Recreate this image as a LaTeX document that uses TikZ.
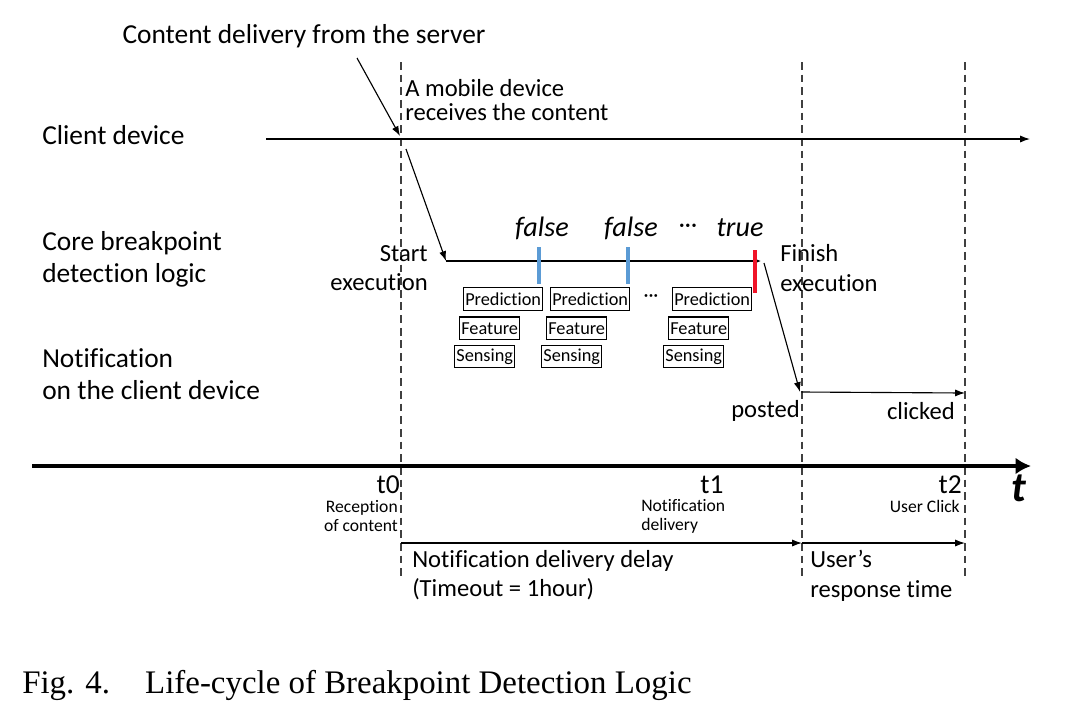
\documentclass[tikz,border=0pt]{standalone}
\usepackage{fontspec}
\setmainfont{Carlito}[Ligatures=NoCommon]
\newfontfamily\captionfont{Liberation Serif}
\usetikzlibrary{positioning, arrows.meta}

\begin{document}
\begin{tikzpicture}[x=0.025cm, y=-0.025cm]
	\tikzset{arrow/.style={-{Latex[length=7pt, width=5pt]}, line width=0.8pt}}
	\tikzset{guide/.style={dash pattern=on 5.5pt off 3.5pt, line width=0.9pt, black!75}}
	\tikzset{rowlabel/.style={anchor=west, align=left, inner sep=0pt, font=\fontsize{19.5}{22.7}\selectfont}}
	\tikzset{note/.style={inner sep=0pt, align=left, font=\fontsize{17.5}{21}\selectfont}}
	\tikzset{small/.style={inner sep=0pt, font=\fontsize{12.5}{13.5}\selectfont}}
	\tikzset{stepbox/.style={draw, line width=0.8pt, inner xsep=1.2pt, inner ysep=0pt, minimum height=16pt, font=\fontsize{13}{13}\selectfont}}
	\tikzset{verdict/.style={inner sep=0pt, font=\fontsize{20}{22}\selectfont\itshape}}
	\tikzset{bar/.style={line width=3pt}}

	\useasboundingbox (0,0) rectangle (1082,712);

	% Row labels
	\node (client) [rowlabel] at (42,135) {Client device};
	\node (core) [rowlabel] at (42,259) {Core breakpoint\\detection logic};
	\node (notif) [rowlabel] at (42,374) {Notification\\on the client device};

	% Time guides
	\coordinate (g0top) at (401,62);
	\coordinate (g0bot) at (401,578);
	\coordinate (g1top) at (802,62);
	\coordinate (g1bot) at (802,578);
	\coordinate (g2top) at (965,62);
	\coordinate (g2bot) at (965,578);
	\draw [guide] (g0top) -- (g0bot);
	\draw [guide] (g1top) -- (g1bot);
	\draw [guide] (g2top) -- (g2bot);

	% Client device
	\coordinate (clientstart) at (266,139);
	\coordinate (clientend) at (1030,139);
	\draw [arrow] (clientstart) -- (clientend);
	\node (server) [note, font=\fontsize{19.5}{22}\selectfont] at (304,36) {Content delivery from the server};
	\coordinate (serverfrom) at (357,58);
	\coordinate (received) at (400,136);
	\draw [arrow] (serverfrom) -- (received);
	\node (mobile) [note, anchor=west, font=\fontsize{17.5}{16.5}\selectfont] at (405,100) {A mobile device\\receives the content};

	% Core breakpoint detection logic
	\coordinate (handoff) at (406,149);
	\coordinate (corestart) at (446,261);
	\coordinate (coreend) at (761,261);
	\draw [arrow] (handoff) -- (corestart);
	\draw [arrow, -{Latex[length=4pt, width=3.5pt]}] (corestart) -- (coreend);
	\node (start) [note, align=right, anchor=east] at (428,268) {Start\\execution};
	\node (finish) [note, anchor=west] at (780,268) {Finish\\execution};

	\draw [bar, color={rgb,255:red,91;green,155;blue,213}] (539,247) -- (539,284);
	\draw [bar, color={rgb,255:red,91;green,155;blue,213}] (628,247) -- (628,284);
	\draw [bar, color={rgb,255:red,240;green,20;blue,40}] (755,250) -- (755,293);

	\node (v1) [verdict] at (542,228) {false};
	\node (v2) [verdict] at (631,228) {false};
	\node (vdots) [inner sep=0pt, font=\fontsize{17}{18}\selectfont] at (688,228) {···};
	\node (v3) [verdict] at (740,228) {true};

	% Step 1
	\node (pred1) [stepbox, anchor=west] at (463,299) {Prediction};
	\node (feat1) [stepbox, below=4pt of pred1.south west, anchor=north west, xshift=-2.8pt] {Feature};
	\node (sens1) [stepbox, below=3.4pt of feat1.south west, anchor=north west, xshift=-3.5pt] {Sensing};

	% Step 2
	\node (pred2) [stepbox, anchor=west] at (550,299) {Prediction};
	\node (feat2) [stepbox, below=4pt of pred2.south west, anchor=north west, xshift=-2.8pt] {Feature};
	\node (sens2) [stepbox, below=3.4pt of feat2.south west, anchor=north west, xshift=-3.5pt] {Sensing};

	% Step n
	\node (pred3) [stepbox, anchor=west] at (672,299) {Prediction};
	\node (feat3) [stepbox, below=4pt of pred3.south west, anchor=north west, xshift=-2.8pt] {Feature};
	\node (sens3) [stepbox, below=3.4pt of feat3.south west, anchor=north west, xshift=-3.5pt] {Sensing};
	\node (sdots) [inner sep=0pt, font=\fontsize{14}{15}\selectfont] at (651,298) {···};

	% Notification on the client device
	\coordinate (finishfrom) at (764,263);
	\coordinate (posted) at (800,392);
	\coordinate (clicked) at (965,393);
	\draw [arrow] (finishfrom) -- (posted);
	\draw [arrow] ([xshift=1pt]posted) -- (clicked);
	\node (postedlbl) [note, anchor=east] at (800,411) {posted};
	\node (clickedlbl) [note, anchor=east] at (955,411) {clicked};

	% Time axis
	\coordinate (axisstart) at (32,466);
	\coordinate (axisend) at (1031,466);
	\draw [line width=3.5pt, -{Latex[length=11pt, width=12pt]}] (axisstart) -- (axisend);
	\node (taxis) [inner sep=0pt, font=\fontsize{30}{32}\selectfont\bfseries\itshape] at (1019,488) {t};

	\node (t0) [note, anchor=east, font=\fontsize{19.5}{22}\selectfont] at (400,485) {t0};
	\node (t0lbl) [small, anchor=east, align=right] at (398,516) {Reception\\of content};
	\node (t1) [note, font=\fontsize{19.5}{22}\selectfont] at (712,485) {t1};
	\node (t1lbl) [small, anchor=west, align=left] at (641,516) {Notification\\delivery};
	\node (t2) [note, anchor=east, font=\fontsize{19.5}{22}\selectfont] at (962,485) {t2};
	\node (t2lbl) [small, anchor=east] at (960,506) {User Click};

	% Durations
	\coordinate (d0) at (401,543);
	\coordinate (d1) at (802,543);
	\coordinate (d2) at (965,543);
	\draw [arrow] (d0) -- (d1);
	\draw [arrow] (d1) -- (d2);
	\node (delay) [note, anchor=west] at (412,575) {Notification delivery delay\\(Timeout = 1hour)};
	\node (response) [note, anchor=west] at (810,576) {User’s\\response time};

	% Caption
	\node (caption) [inner sep=0pt, anchor=west, font=\captionfont\fontsize{23.4}{26}\selectfont] at (22,685) {Fig. 4.\hspace{25pt}Life-cycle of Breakpoint Detection Logic};
\end{tikzpicture}
\end{document}
